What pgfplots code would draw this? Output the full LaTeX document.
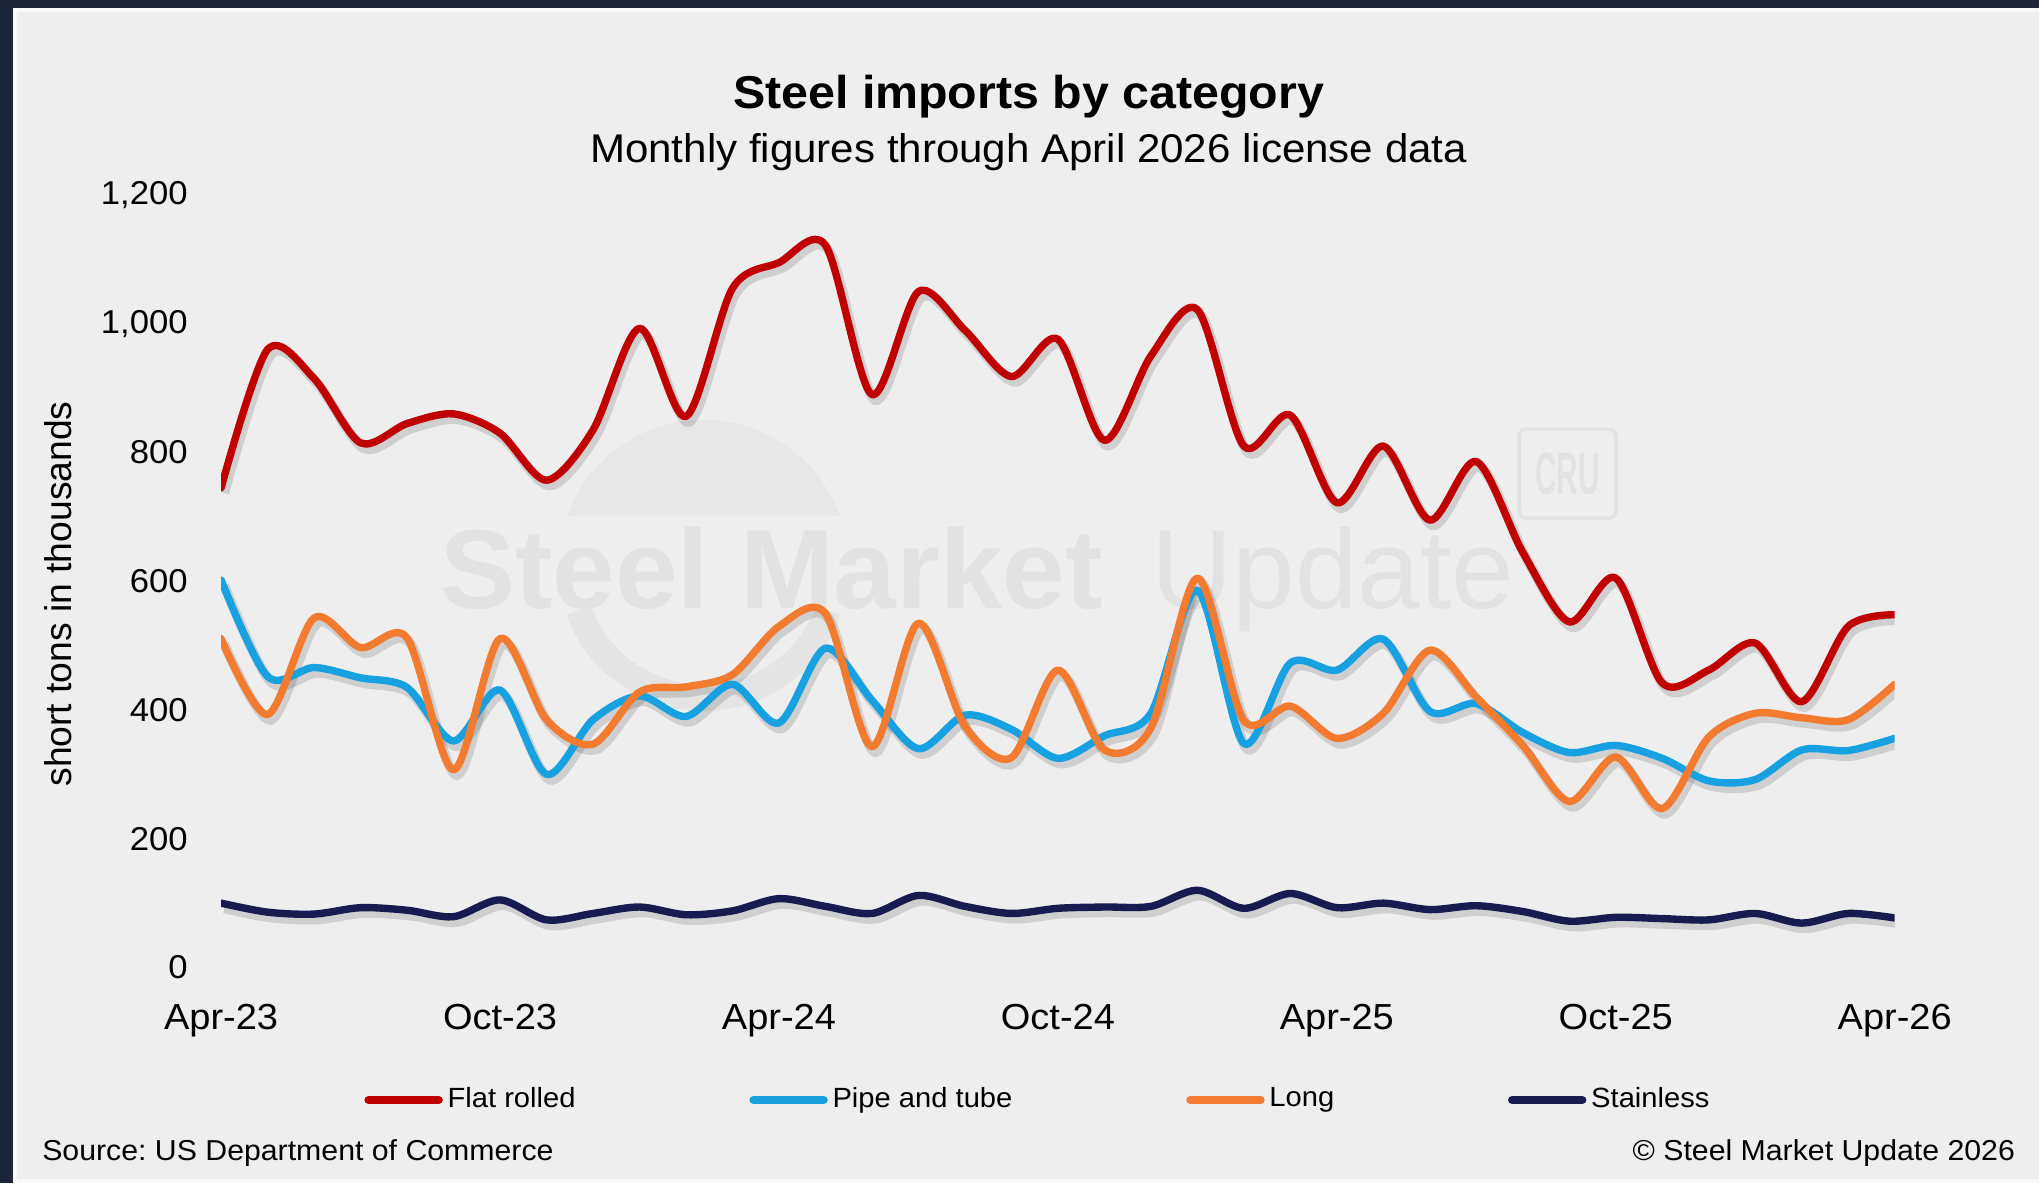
\documentclass[border=0pt]{standalone}
\usepackage{fontspec}
\setmainfont[FakeStretch=1.05]{Liberation Sans}
\newfontfamily\plainsans{Liberation Sans}
\usepackage{graphicx}
\usepackage{pgfplots}
\usepackage{pgfplotstable}
\pgfplotsset{compat=1.18}
\frenchspacing

\definecolor{flat}{HTML}{C00000}
\definecolor{pipe}{HTML}{18A1E0}
\definecolor{long}{HTML}{F37B30}
\definecolor{stain}{HTML}{171B4F}
\definecolor{panel}{HTML}{EEEEEE}
\definecolor{frame}{HTML}{1D2539}
\definecolor{wm}{HTML}{E2E2E2}

% monthly license data, Apr-23 = 0 ... Apr-26 = 36 (thousand short tons)
\pgfplotstableread{
m  flat pipe long stain
0  745  602  511  100
1  960  452  393  86
2  915  466  543  83
3  815  450  497  93
4  845  435  512  89
5  860  352  307  79
6  830  431  511  105
7  757  300  385  74
8  835  385  347  84
9  993  422  428  94
10 856  390  436  82
11 1055 440  455  88
12 1095 380  530  107
13 1122 496  550  95
14 890  415  343  84
15 1050 340  535  112
16 990  392  375  95
17 918  370  326  84
18 976  325  462  92
19 819  360  338  94
20 950  395  372  95
21 1022 586  605  120
22 810  348  384  92
23 858  473  406  115
24 722  462  356  93
25 810  510  395  100
26 695  398  493  90
27 786  410  420  96
28 645  365  345  87
29 537  334  258  72
30 605  345  327  78
31 442  325  247  76
32 462  290  358  74
33 504  292  395  84
34 413  338  388  69
35 530  337  385  84
36 548  356  440  77
}\imports

\pgfplotsset{
  series/.style={smooth, tension=0.5, line width=2.1pt, line join=round, line cap=round},
  shadow/.style={forget plot, smooth, tension=0.5, line width=2.8pt, black, opacity=0.13, xshift=0.9pt, yshift=-1.5pt},
}

\begin{document}
\begin{tikzpicture}
% backdrop
\fill[frame] (0,0) rectangle (20.39,-11.83);
\fill[panel] (0.13,-0.08) rectangle (20.39,-11.83);
\draw[white!60!panel, line width=1.2pt] (0.15,-0.10) rectangle (20.45,-11.81);

% watermark
\fill[wm!55!panel] (7.035,-5.648) ++(20:1.448) arc (20:160:1.448) -- cycle;
\draw[wm!80!panel, line width=0.26cm] (7.035,-5.648) ++(200:1.33) arc (200:340:1.33);
\node[anchor=base west, inner sep=0, text=wm, font=\plainsans\bfseries\fontsize{32}{36}\selectfont] at (4.395,-6.086) {Steel Market};
\node[anchor=base west, inner sep=0, text=wm, font=\plainsans\fontsize{32}{36}\selectfont] at (11.51,-6.086) {Update};
\draw[wm, line width=1pt, rounded corners=2pt] (15.19,-4.29) rectangle (16.16,-5.18);
\node[text=wm, font=\plainsans\bfseries\fontsize{17}{17}\selectfont] at (15.675,-4.74) {\scalebox{0.5}[1]{CRU}};

\begin{axis}[
  at={(2.211cm,-9.675cm)}, anchor=south west,
  width=16.736cm, height=7.725cm, scale only axis,
  xmin=0, xmax=36, ymin=0, ymax=1200,
  axis line style={draw=none}, tick style={draw=none},
  xtick={0,6,...,36},
  xticklabels={Apr-23,Oct-23,Apr-24,Oct-24,Apr-25,Oct-25,Apr-26},
  ytick={0,200,...,1200},
  /pgf/number format/assume math mode=true,
  /pgf/number format/1000 sep={,},
  x tick label style={font=\fontsize{10.3}{12}\selectfont, yshift=-0.24cm},
  y tick label style={font=\fontsize{9.4}{11}\selectfont, xshift=-0.21cm},
  legend style={at={(0.488,-0.1715)}, anchor=center, draw=none, fill=none,
    font=\fontsize{7.9}{9}\selectfont, nodes={inner xsep=0.5pt},
    /tikz/every odd column/.append style={column sep=0.03cm},
    /tikz/every even column/.append style={column sep=1.72cm}},
  legend columns=4,
  legend image code/.code={\draw[#1, line width=2.4pt, line cap=round] (0cm,0cm) -- (0.70cm,0cm);},
]
\addplot[shadow] table[x=m, y=stain] {\imports};
\addplot[shadow] table[x=m, y=pipe] {\imports};
\addplot[shadow] table[x=m, y=long] {\imports};
\addplot[shadow] table[x=m, y=flat] {\imports};

\addplot[series, flat] table[x=m, y=flat] {\imports};
\addlegendentry{Flat rolled}
\addplot[series, pipe] table[x=m, y=pipe] {\imports};
\addlegendentry{Pipe and tube}
\addplot[series, long] table[x=m, y=long] {\imports};
\addlegendentry{Long}
\addplot[series, stain] table[x=m, y=stain] {\imports};
\addlegendentry{Stainless}
\end{axis}

% titles and notes
\node[anchor=base, inner sep=0, font=\bfseries\fontsize{13.1}{15}\selectfont] at (10.286,-1.085) {Steel imports by category};
\node[anchor=base, inner sep=0, font=\fontsize{11.4}{13}\selectfont] at (10.286,-1.625) {Monthly figures through April 2026 license data};
\node[rotate=90, inner sep=0, font=\plainsans\fontsize{10.6}{12}\selectfont] at (0.585,-5.94) {short tons in thousands};
\node[anchor=base west, inner sep=0, font=\fontsize{8.2}{10}\selectfont] at (0.416,-11.60) {Source: US Department of Commerce};
\node[anchor=base east, inner sep=0, font=\fontsize{8.2}{10}\selectfont] at (20.156,-11.60) {\textcopyright{} Steel Market Update 2026};

\pgfresetboundingbox
\path (0,0) rectangle (20.39,-11.83);
\end{tikzpicture}
\end{document}
